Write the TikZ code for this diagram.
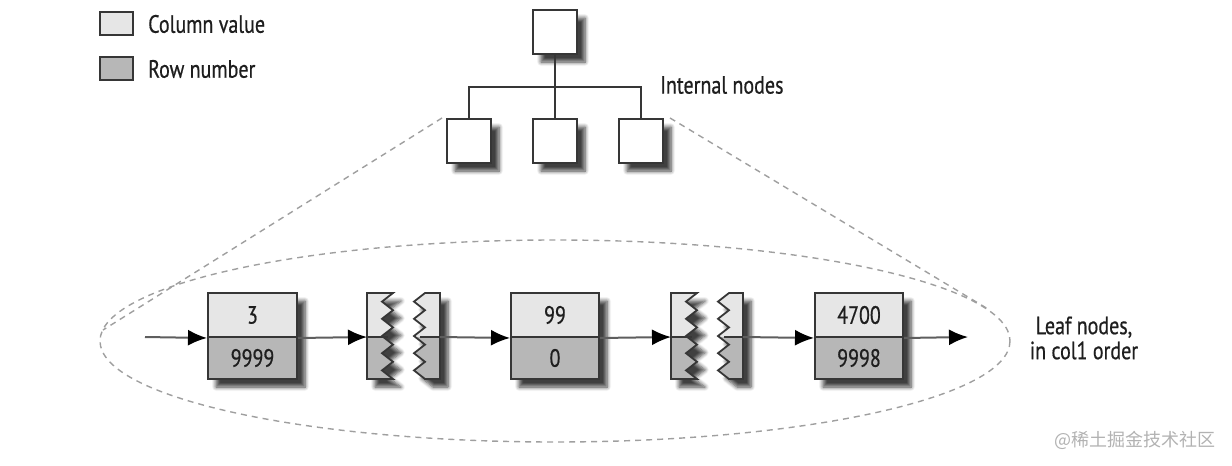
\documentclass[tikz,border=0pt]{standalone}
\usepackage{fontspec}
\setmainfont{PT Sans}[FakeStretch=0.8, FakeBold=0.6]
\newfontfamily\cjkfont{Noto Sans CJK SC}
\usetikzlibrary{arrows.meta,shadows.blur}
\definecolor{cvfill}{HTML}{E6E6E6}
\definecolor{rnfill}{HTML}{B7B7B7}
\definecolor{edgec}{HTML}{363636}
\definecolor{txtc}{HTML}{1E1E1E}
\tikzset{
  shad/.style={blur shadow={shadow xshift=8pt, shadow yshift=-8pt, shadow blur radius=4pt, shadow blur steps=6, shadow opacity=75}},
  base/.style={draw=edgec, line width=2pt, inner sep=0pt, text=txtc},
  cv/.style={base, fill=cvfill, minimum width=89pt, minimum height=44pt},
  rn/.style={base, fill=rnfill, minimum width=89pt, minimum height=42pt},
  inode/.style={base, fill=white, minimum width=44pt, minimum height=44pt, shad},
  legbox/.style={base, minimum width=33pt, minimum height=23pt},
  lbl/.style={text=txtc, inner sep=0pt},
  tree/.style={draw=edgec, line width=2pt},
  link/.style={draw=edgec!80, line width=2pt, -{Latex[length=19pt,width=16pt,color=black]}},
  zoomline/.style={draw=gray!75, line width=1.4pt, dash pattern=on 6pt off 5pt},
  piece/.style={draw=edgec, line width=1.8pt, line join=miter},
}
% zigzag piece: #1 outer x, #2 even x, #3 odd x
\newcommand\zigpiece[3]{(#1,293) -- (#2,293) \foreach \k in {1,...,10}{ -- ({mod(\k,2)==1 ? #3 : #2}, {293+8.6*\k}) } -- (#1,379) -- cycle}
\newcommand\brokenbox[6]{%
  \fill[cvfill, shad] \zigpiece{#1}{#2}{#3};
  \begin{scope}\clip (0,337) rectangle (1232,466); \fill[rnfill] \zigpiece{#1}{#2}{#3}; \end{scope}
  \draw[piece] (#1,337) -- ({(#2+#3)/2},337);
  \draw[piece] \zigpiece{#1}{#2}{#3};
  \fill[cvfill, shad] \zigpiece{#4}{#5}{#6};
  \begin{scope}\clip (0,337) rectangle (1232,466); \fill[rnfill] \zigpiece{#4}{#5}{#6}; \end{scope}
  \draw[piece] (#4,337) -- ({(#5+#6)/2},337);
  \draw[piece] \zigpiece{#4}{#5}{#6};
}
\begin{document}
\begin{tikzpicture}[x=1pt,y=-1pt,font=\fontsize{25}{28}\selectfont]
\useasboundingbox (0,0) rectangle (1232,466);
% legend
\node[legbox, fill=cvfill] (lg1) at (116.5,23.5) {};
\node[legbox, fill=rnfill] (lg2) at (116.5,68.5) {};
\node[lbl, anchor=west] (lgt1) at (148,24) {Column value};
\node[lbl, anchor=west] (lgt2) at (148,69) {Row number};
% internal nodes
\node[inode] (root) at (555,32) {};
\node[inode] (c1) at (469,141) {};
\node[inode] (c2) at (555,141) {};
\node[inode] (c3) at (641,141) {};
\coordinate (j) at (555,87);
\draw[tree] (root.south) -- (j);
\draw[tree] (c1.north) |- (j) -| (c3.north);
\draw[tree] (j) -- (c2.north);
\node[lbl, anchor=west] (intl) at (660,85) {Internal nodes};
% zoom ellipse and lines
\draw[zoomline] (555,341) ellipse [x radius=455, y radius=101];
\coordinate (tl) at (103,330);
\coordinate (tr) at (988,309);
\draw[zoomline] ([xshift=-4pt]c1.north west) -- (tl);
\draw[zoomline] ([xshift=6pt]c3.north east) -- (tr);
% leaf nodes
\path[shad] (208,293) rectangle (297,379);
\node[cv] (l1t) at (252.5,315) {3};
\node[rn] (l1b) at (252.5,358) {9999};
\path[shad] (511,293) rectangle (599,379);
\node[cv, minimum width=88pt] (l2t) at (555,315) {99};
\node[rn, minimum width=88pt] (l2b) at (555,358) {0};
\path[shad] (815,293) rectangle (903,379);
\node[cv, minimum width=88pt] (l3t) at (859,315) {4700};
\node[rn, minimum width=88pt] (l3b) at (859,358) {9998};
% broken boxes
\brokenbox{367}{393}{382}{440}{425}{414}
\brokenbox{671}{697}{686}{743}{729}{718}
\coordinate (b1in) at (367,337);
\coordinate (b1out) at (440,337);
\coordinate (b2in) at (671,337);
\coordinate (b2out) at (743,337);
\coordinate (start) at (145,337);
\coordinate (finish) at (968,337);
\draw[link] (start) -- (l1t.south west);
\draw[link] (l1t.south east) -- (b1in);
\draw[link] (b1out) -- (l2t.south west);
\draw[link] (l2t.south east) -- (b2in);
\draw[link] (b2out) -- (l3t.south west);
\draw[link] (l3t.south east) -- (finish);
\node[lbl, align=center] (leafl) at (1084,338) {Leaf nodes,\\[-3pt]in col1 order};
% watermark
\node[text=gray!60, inner sep=0pt, anchor=east] (wm) at (1216,440) {\cjkfont\fontsize{18}{20}\selectfont @稀土掘金技术社区};
\end{tikzpicture}
\end{document}
